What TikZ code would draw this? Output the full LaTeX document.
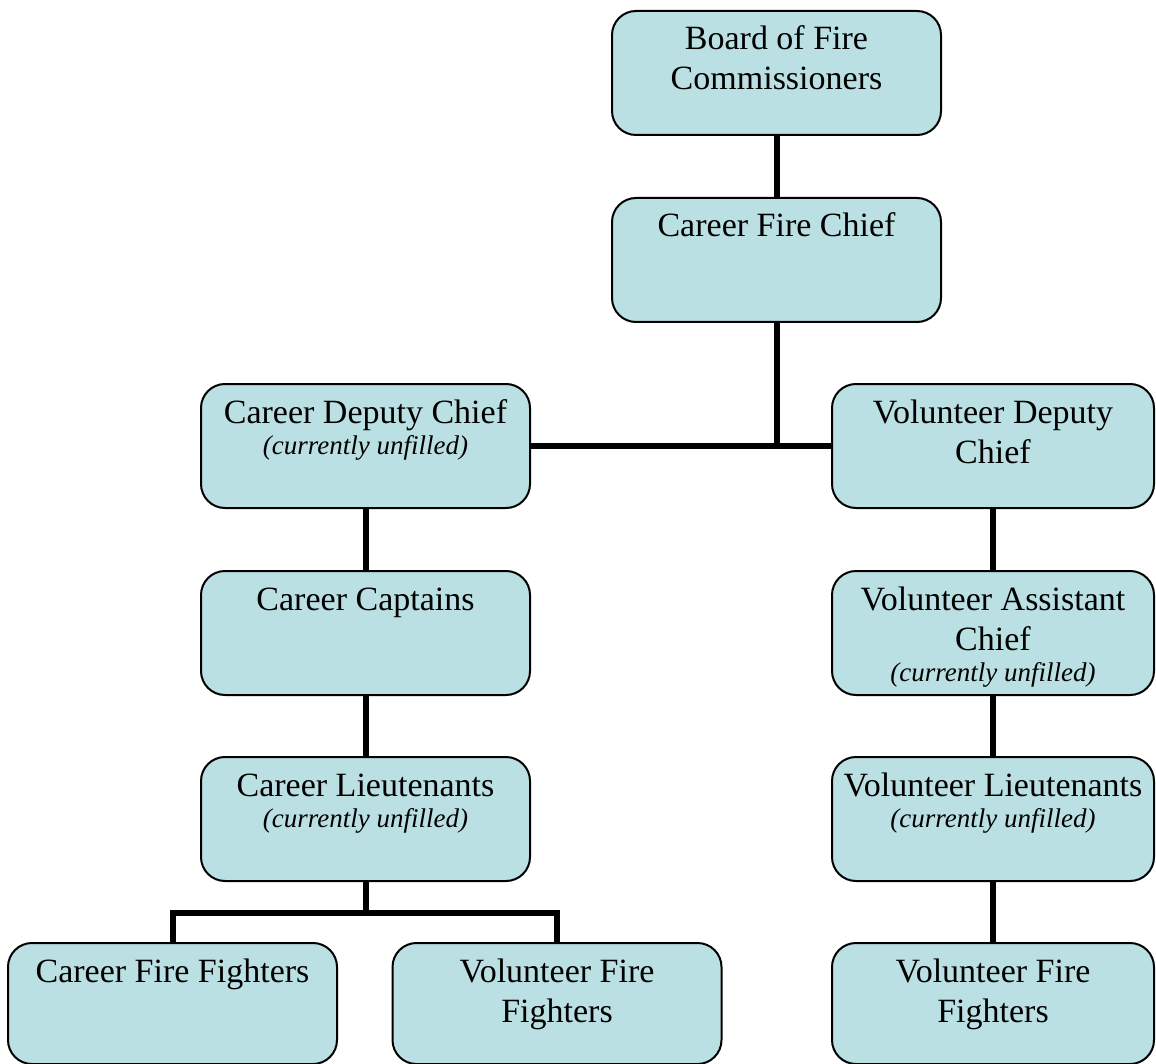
\documentclass[tikz,border=0pt]{standalone}
\usepackage{fontspec}
\setmainfont{Liberation Serif}
\definecolor{postfill}{RGB}{187,224,227}
% box text: top aligned, fixed height
\newcommand{\posttext}[2][124pt]{\parbox[c][#1][t]{312pt}{\centering\fontsize{34}{40}\selectfont\rule{0pt}{39pt}#2\par}}
\newcommand{\unfilled}{\par{\fontsize{27}{31}\selectfont\itshape (currently unfilled)\par}}
\tikzset{
  post/.style={draw, line width=2pt, fill=postfill, rounded corners=24pt,
    inner sep=0pt, minimum width=329pt, anchor=north},
  rightpost/.style={post, minimum width=322pt},
  link/.style={line width=6pt}
}
\begin{document}
\begin{tikzpicture}[x=1pt,y=-1pt]
  \useasboundingbox (0,0) rectangle (1156,1064);
  % top
  \node[post] (board) at (776.5,10) {\posttext{Board of Fire\\Commissioners}};
  \node[post] (chief) at (776.5,197) {\posttext{Career Fire Chief}};
  % career side
  \node[post] (cdep) at (365.5,383) {\posttext{Career Deputy Chief\unfilled}};
  \node[post] (ccap) at (365.5,570) {\posttext{Career Captains}};
  \node[post] (clt) at (365.5,756) {\posttext{Career Lieutenants\unfilled}};
  \node[post] (cff) at (172.5,942) {\posttext[121pt]{Career Fire Fighters}};
  \node[post] (vff) at (557,942) {\posttext[121pt]{Volunteer Fire\\Fighters}};
  % volunteer side
  \node[rightpost] (vdep) at (993,383) {\posttext{Volunteer Deputy\\Chief}};
  \node[rightpost] (vach) at (993,570) {\posttext{Volunteer Assistant\\Chief\unfilled}};
  \node[rightpost] (vlt) at (993,756) {\posttext{Volunteer Lieutenants\unfilled}};
  \node[rightpost] (vffr) at (993,942) {\posttext[121pt]{Volunteer Fire\\Fighters}};

  % connectors
  \coordinate (fork) at (chief.south |- cdep.east);
  \coordinate (ltfork) at ([yshift=-31pt]clt.south);
  \draw[link] (board) -- (chief);
  \draw[link] (chief) -- (fork);
  \draw[link] (cdep.east) -- (vdep.west);
  \draw[link] (cdep) -- (ccap);
  \draw[link] (ccap) -- (clt);
  \draw[link] (clt.south) -- (ltfork);
  \draw[link] (cff.north) |- (ltfork) -| (vff.north);
  \draw[link] (vdep) -- (vach);
  \draw[link] (vach) -- (vlt);
  \draw[link] (vlt) -- (vffr);
\end{tikzpicture}
\end{document}
